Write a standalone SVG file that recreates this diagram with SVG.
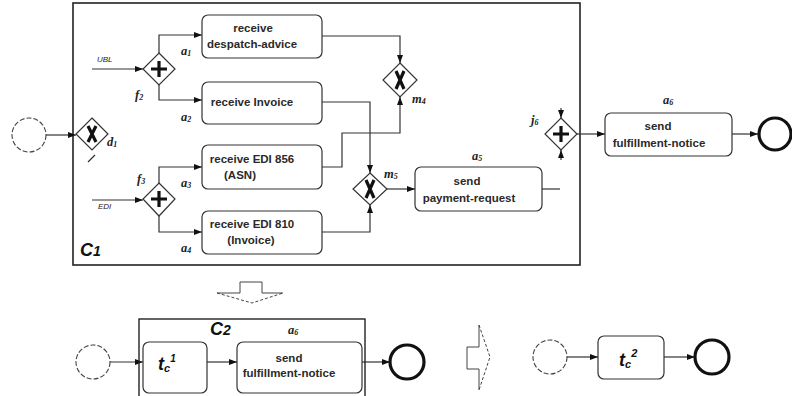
<svg xmlns="http://www.w3.org/2000/svg" width="792" height="396" viewBox="0 0 792 396">
<style>
.ln{fill:none;stroke:#333;stroke-width:1.2}
.arw{marker-end:url(#ah)}
.box{fill:#fff;stroke:#333;stroke-width:1.2}
.dia{fill:#fff;stroke:#333;stroke-width:1.2}
.sym{fill:none;stroke:#111;stroke-width:3.2;stroke-linecap:butt}
.st{fill:#fff;stroke:#444;stroke-width:1.1;stroke-dasharray:5 2}
.en{fill:#fff;stroke:#111;stroke-width:3.2}
.tx{font-family:"Liberation Sans",Arial,sans-serif;font-size:11.5px;font-weight:bold;fill:#2a2a2a;text-anchor:middle}
.lab{font-family:"Liberation Serif","Times New Roman",serif;font-size:12.5px;font-style:italic;font-weight:bold;fill:#222}
.sm{font-family:"Liberation Sans",Arial,sans-serif;font-size:8px;font-style:italic;fill:#222}
.big{font-family:"Liberation Sans",Arial,sans-serif;font-size:18px;font-style:italic;font-weight:bold;fill:#111}
.holf{fill:#fff;stroke:none}
.hols{fill:none;stroke:#444;stroke-width:1}
.hold{fill:none;stroke:#444;stroke-width:1;stroke-dasharray:3 2}
</style>
<defs>
<marker id="ah" markerUnits="userSpaceOnUse" markerWidth="8" markerHeight="6" refX="8" refY="3" orient="auto">
<path d="M0,0 L8,3 L0,6 z" fill="#111"/>
</marker>
</defs>

<g id="C1">
<rect x="73" y="3" width="507" height="262" fill="none" stroke="#222" stroke-width="1.6"/>
<text class="big" x="80" y="256">C<tspan font-size="14">1</tspan></text>
</g>

<g id="connectors">
<path class="ln arw" d="M46,135 H76"/>
<path class="ln arw" d="M92,69 H143"/>
<path class="ln arw" d="M159,53 V35 H202"/>
<path class="ln arw" d="M159,85 V100 H202"/>
<path class="ln arw" d="M92,200 H143"/>
<path class="ln arw" d="M159,183 V167 H202"/>
<path class="ln arw" d="M159,216 V232 H202"/>
<path class="ln arw" d="M322,36 H400 V63"/>
<path class="ln arw" d="M322,167 H342 V133 H400 V97"/>
<path class="ln arw" d="M322,102 H370 V173"/>
<path class="ln arw" d="M322,232 H370 V205"/>
<path class="ln arw" d="M387,189 H415"/>
<path class="ln" d="M542,189 H560"/>
<path class="ln arw" d="M561,108 V118"/>
<path class="ln arw" d="M561,160 V150"/>
<path class="ln arw" d="M577,134 H605"/>
<path class="ln arw" d="M732,134 H758"/>
<path class="ln arw" d="M110,362 H143"/>
<path class="ln arw" d="M207,362 H237"/>
<path class="ln arw" d="M362,362 H390"/>
<path class="ln arw" d="M567,357 H598"/>
<path class="ln arw" d="M664,357 H695"/>
<path class="ln" d="M88,162 L95,155"/>
</g>

<g id="start1"><circle class="st" cx="29" cy="135" r="17"/></g>

<g id="d1">
<polygon class="dia" points="92,118 108,134 92,150 76,134"/>
<path class="sym" d="M88,126 L96,142 M96,126 L88,142" stroke-width="2.6"/>
<text class="lab" x="107" y="146">d<tspan font-size="8" dy="1">1</tspan></text>
</g>

<g id="UBL"><text class="sm" x="97" y="62">UBL</text></g>
<g id="EDI"><text class="sm" x="98" y="209">EDI</text></g>

<g id="f2">
<polygon class="dia" points="159,53 175,69 159,85 143,69"/>
<path class="sym" d="M159,61 V77 M151,69 H167"/>
<text class="lab" x="135" y="99">f<tspan font-size="8" dy="1">2</tspan></text>
</g>

<g id="f3">
<polygon class="dia" points="159,183 175,199 159,216 143,199"/>
<path class="sym" d="M159,191 V207 M151,199 H167"/>
<text class="lab" x="137" y="183">f<tspan font-size="8" dy="1">3</tspan></text>
</g>

<g id="a1">
<rect class="box" x="202" y="15" width="120" height="43" rx="6"/>
<text class="tx" x="253" y="32">receive</text>
<text class="tx" x="252" y="48">despatch-advice</text>
<text class="lab" x="181" y="55">a<tspan font-size="8" dy="1">1</tspan></text>
</g>

<g id="a2">
<rect class="box" x="202" y="82" width="120" height="42" rx="6"/>
<text class="tx" x="252" y="106">receive Invoice</text>
<text class="lab" x="181" y="121">a<tspan font-size="8" dy="1">2</tspan></text>
</g>

<g id="a3">
<rect class="box" x="202" y="145" width="120" height="44" rx="6"/>
<text class="tx" x="252" y="163">receive EDI 856</text>
<text class="tx" x="240" y="179">(ASN)</text>
<text class="lab" x="181" y="187">a<tspan font-size="8" dy="1">3</tspan></text>
</g>

<g id="a4">
<rect class="box" x="202" y="211" width="120" height="43" rx="6"/>
<text class="tx" x="252" y="228">receive EDI 810</text>
<text class="tx" x="251" y="244">(Invoice)</text>
<text class="lab" x="181" y="252">a<tspan font-size="8" dy="1">4</tspan></text>
</g>

<g id="m4">
<polygon class="dia" points="400,63 417,80 400,97 383,80"/>
<path class="sym" d="M396,71 L404,89 M404,71 L396,89" stroke-width="2.6"/>
<text class="lab" x="412" y="103">m<tspan font-size="8" dy="1">4</tspan></text>
</g>

<g id="m5">
<polygon class="dia" points="370,173 387,189 370,205 353,189"/>
<path class="sym" d="M366,180 L374,198 M374,180 L366,198" stroke-width="2.6"/>
<text class="lab" x="384" y="178">m<tspan font-size="8" dy="1">5</tspan></text>
</g>

<g id="a5">
<rect class="box" x="415" y="167" width="127" height="44" rx="6"/>
<text class="tx" x="467" y="185">send</text>
<text class="tx" x="469" y="202">payment-request</text>
<text class="lab" x="472" y="160">a<tspan font-size="8" dy="1">5</tspan></text>
</g>

<g id="j6">
<polygon class="dia" points="561,118 577,134 561,150 545,134"/>
<path class="sym" d="M561,126 V142 M553,134 H569"/>
<text class="lab" x="531" y="124">j<tspan font-size="8" dy="1">6</tspan></text>
</g>

<g id="a6top">
<rect class="box" x="605" y="113" width="127" height="43" rx="6"/>
<text class="tx" x="658" y="130">send</text>
<text class="tx" x="659" y="147">fulfillment-notice</text>
<text class="lab" x="663" y="104">a<tspan font-size="8" dy="1">6</tspan></text>
</g>

<g id="end1"><circle class="en" cx="775" cy="134" r="16"/></g>

<g id="downArrow">
<polygon class="holf" points="240,282 262,282 262,293 283,293 252,303 217,293 240,293"/>
<path class="hols" d="M240,293 V282 H262 V293 M217,293 H240 M262,293 H283"/>
<path class="hold" d="M217,293 L252,303 L283,293"/>
</g>

<g id="C2">
<rect x="139" y="319" width="226" height="84" fill="none" stroke="#222" stroke-width="1.4"/>
<text class="big" x="210" y="335">C<tspan font-size="14">2</tspan></text>
<text class="lab" x="288" y="334">a<tspan font-size="8" dy="1">6</tspan></text>
</g>

<g id="start2"><circle class="st" cx="93" cy="362" r="17"/></g>

<g id="tc1">
<rect class="box" x="143" y="342" width="64" height="51" rx="6"/>
<text class="big" x="158" y="370">t<tspan font-size="11" dy="2">c</tspan><tspan font-size="10" dy="-10">1</tspan></text>
</g>

<g id="a6">
<rect class="box" x="237" y="342" width="125" height="51" rx="6"/>
<text class="tx" x="289" y="362">send</text>
<text class="tx" x="289" y="377">fulfillment-notice</text>
</g>

<g id="end2"><circle class="en" cx="407" cy="362" r="17"/></g>

<g id="rightArrow">
<polygon class="holf" points="467,347 479,347 479,325 490,357 479,390 479,369 467,369"/>
<path class="hols" d="M479,347 H467 V369 H479 M479,325 V347 M479,369 V390"/>
<path class="hold" d="M479,325 L490,357 L479,390"/>
</g>

<g id="start3"><circle class="st" cx="550" cy="357" r="17"/></g>

<g id="tc2">
<rect class="box" x="598" y="336" width="66" height="43" rx="6"/>
<text class="big" x="619" y="366">t<tspan font-size="11" dy="2">c</tspan><tspan font-size="11" dy="-11">2</tspan></text>
</g>

<g id="end3"><circle class="en" cx="712" cy="357" r="17"/></g>
</svg>
